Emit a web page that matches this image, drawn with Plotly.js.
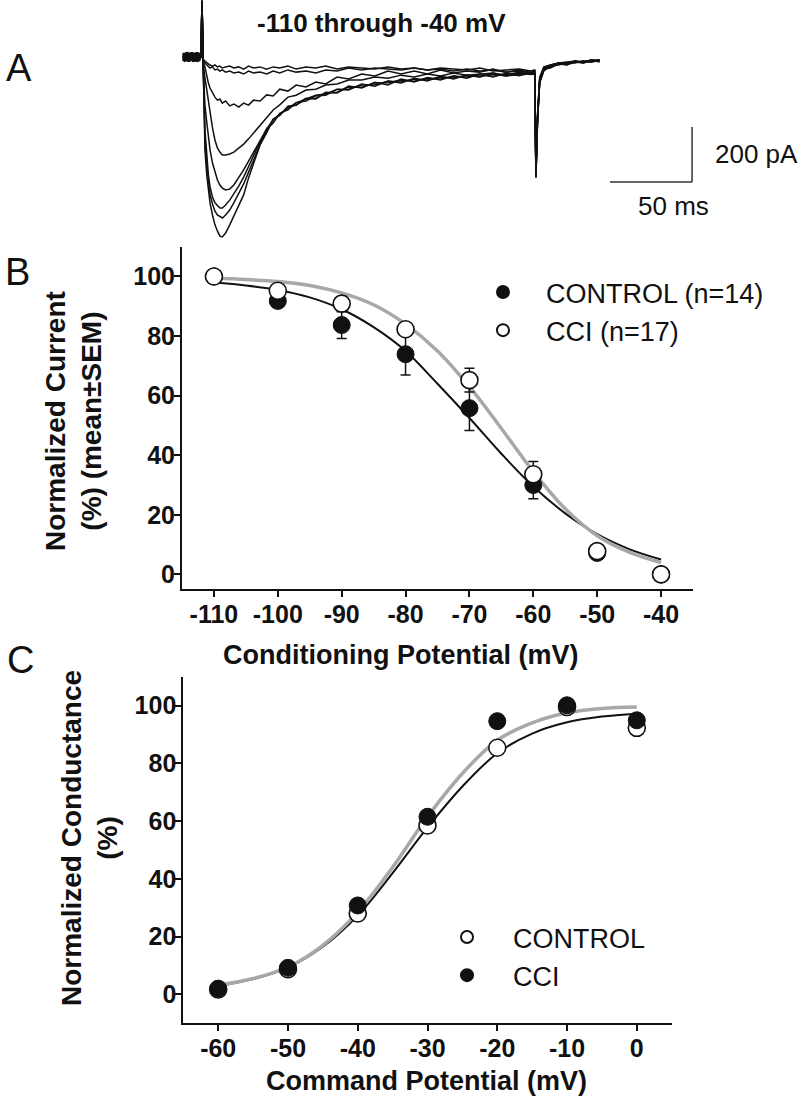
<!DOCTYPE html>
<html><head><meta charset="utf-8">
<script src="https://cdn.plot.ly/plotly-3.0.1.min.js"></script>
<style>html,body{margin:0;padding:0;background:#fff}#chart{width:800px;height:1097px}</style>
</head><body><div id="chart"></div>
<script>
// ---------- Panel A: current traces (time in ms, current in pA) ----------
const sweepTimeMs = [-11,-10,-9,-8,-7,-6,-5,-4,-3,-2,-1,0,0.6,1.3,2.4,3.5,4.5,5.5,7,8.5,10,11.5,13,15,17.5,20,23,26,29,32,36,40,44,48,53,58,64,70,76,83,90,98,106,114,122,130,138,146,154,162,170,178,186,194,201,203.5,204.2,205.2,206.5,209,213,218,223,228,233,238,243];
const sweepM110 = [11,-15,7,-18,15,-7,18,-11,4,-15,7,0,205,-66,-339,-430,-491,-531,-575,-611,-633,-652,-655,-641,-611,-579,-539,-502,-440,-386,-320,-276,-228,-212,-181,-175,-152,-150,-131,-128,-109,-110,-95,-94,-84,-88,-77,-80,-70,-73,-65,-70,-62,-66,-60,-62,-437,-229,-91,-47,-36,-22,-28,-15,-20,-12,-16];
const sweepM100 = [-7,15,-11,18,-4,11,-15,7,-18,11,-4,0,205,-55,-302,-393,-455,-499,-535,-561,-575,-582,-586,-575,-557,-531,-499,-462,-419,-375,-317,-262,-240,-205,-192,-166,-160,-141,-139,-118,-117,-102,-101,-88,-91,-80,-84,-73,-76,-66,-72,-62,-69,-58,-64,-60,-430,-222,-95,-51,-33,-29,-21,-22,-14,-18,-13];
const sweepM90 = [15,-4,-15,11,-7,18,-11,15,-4,-18,11,0,205,-47,-266,-368,-430,-473,-510,-531,-542,-550,-550,-539,-521,-499,-470,-437,-400,-360,-309,-270,-226,-213,-179,-176,-150,-153,-128,-131,-106,-113,-92,-102,-80,-91,-75,-84,-68,-77,-62,-73,-59,-68,-55,-62,-440,-233,-87,-44,-40,-25,-29,-18,-22,-11,-18];
const sweepM80 = [-11,7,18,-15,4,-7,11,-18,15,-4,7,0,205,-40,-175,-237,-291,-338,-386,-422,-448,-466,-477,-484,-481,-466,-440,-411,-379,-346,-302,-262,-229,-207,-186,-167,-153,-139,-135,-117,-120,-98,-106,-87,-95,-77,-87,-70,-80,-66,-73,-58,-69,-62,-58,-65,-425,-218,-84,-47,-33,-25,-25,-18,-18,-15,-11];
const sweepM70 = [4,-18,11,-7,15,-11,7,-15,18,-7,-4,0,205,-25,-76,-120,-175,-211,-258,-302,-331,-346,-357,-357,-353,-346,-331,-317,-298,-277,-251,-225,-193,-174,-146,-139,-120,-117,-102,-98,-84,-84,-73,-77,-66,-73,-62,-69,-58,-66,-62,-58,-66,-55,-62,-58,-430,-225,-87,-44,-36,-22,-25,-15,-22,-15,-11];
const sweepM60 = [-15,11,-4,15,-18,7,-7,11,-11,18,-7,0,205,-18,-36,-69,-95,-113,-131,-146,-157,-153,-168,-160,-178,-171,-182,-168,-175,-157,-160,-138,-142,-117,-124,-102,-109,-91,-98,-73,-80,-62,-69,-51,-62,-51,-62,-47,-58,-51,-55,-44,-55,-47,-55,-51,-420,-215,-80,-40,-33,-25,-22,-18,-15,-18,-11];
const sweepM50 = [7,-11,15,-4,11,-15,4,-7,11,-11,15,0,205,-11,-22,-29,-33,-40,-36,-47,-44,-51,-47,-55,-51,-58,-55,-62,-51,-58,-55,-62,-51,-58,-47,-55,-51,-58,-47,-51,-40,-47,-40,-44,-47,-40,-47,-44,-51,-44,-51,-47,-55,-51,-58,-55,-415,-210,-76,-40,-29,-22,-22,-15,-18,-11,-15];
const sweepM40 = [-4,11,-15,7,-11,15,-18,4,-7,11,-15,0,205,-7,-15,-22,-25,-29,-33,-29,-36,-33,-40,-36,-33,-40,-36,-44,-33,-40,-36,-44,-36,-40,-33,-44,-36,-40,-33,-44,-36,-40,-44,-36,-44,-40,-47,-40,-44,-47,-40,-51,-47,-44,-51,-47,-410,-205,-73,-36,-29,-22,-18,-15,-18,-11,-11];
const scaleBarMs = 50;
const scaleBarPa = 200;
const scaleBarStartMs = 249.4;
const scaleBarBasePa = -455;

// ---------- Panel B: steady-state inactivation ----------
const inactV = [-110,-100,-90,-80,-70,-60,-50,-40];
const inactControl = [100,91.8,83.7,73.9,55.8,30.0,7.2,0];
const inactControlSem = [0.5,1.5,4.5,7.0,7.5,4.6,1.0,0.5];
const inactCci = [100,95.2,90.9,82.3,65.2,33.6,7.8,0];
const inactCciSem = [0.5,1.7,2.4,2.0,4.0,4.3,1.0,0.5];
const inactFitV = [-110,-105,-100,-95,-90,-85,-80,-75,-70,-65,-60,-55,-50,-45,-40];
const inactFitControl = [98,97,95.5,93,89,83,75,64,52.5,40.5,29.5,20.5,13.5,8.5,5];
const inactFitCci = [99.5,99,98.3,97,94.5,90.5,84,75,63,49,34.5,22,13,7.5,4];
const pctTicks = [0,20,40,60,80,100];

// ---------- Panel C: activation (conductance) ----------
const actV = [-60,-50,-40,-30,-20,-10,0];
const actControl = [1.7,8.7,28.0,58.5,85.4,99.5,92.3];
const actCci = [2.0,9.2,30.8,61.5,94.6,100.1,94.9];
const actFitV = [-60,-55,-50,-45,-40,-35,-30,-25,-20,-15,-10,-5,0];
const actFitControl = [2.9,5.3,9.3,16.5,27.3,42,57.8,72,83.5,90.3,94.2,96.2,97.2];
const actFitCci = [3.2,5.5,9.5,17,28.5,44,61.5,76.5,88,94,97.5,99,99.5];

// ---------- layout helpers ----------
const W = 800, H = 1097;
const fx = p => p / W;
const fy = p => 1 - p / H;
const FONT = 'Liberation Sans, Arial, Helvetica, sans-serif';
const INK = '#111111';
const GREY = '#a8a8a8';

const sweeps = [sweepM110, sweepM100, sweepM90, sweepM80, sweepM70, sweepM60, sweepM50, sweepM40];
const traces = [];
sweeps.forEach(s => traces.push({
  x: sweepTimeMs, y: s, xaxis: 'x3', yaxis: 'y3', type: 'scatter', mode: 'lines',
  line: {color: INK, width: 1.5}, showlegend: false, hoverinfo: 'skip'
}));

// Panel B
traces.push({x: inactFitV, y: inactFitControl, xaxis: 'x', yaxis: 'y', mode: 'lines',
  line: {color: INK, width: 2, shape: 'spline'}, showlegend: false, hoverinfo: 'skip'});
traces.push({x: inactFitV, y: inactFitCci, xaxis: 'x', yaxis: 'y', mode: 'lines',
  line: {color: GREY, width: 3.5, shape: 'spline'}, showlegend: false, hoverinfo: 'skip'});
traces.push({x: inactV, y: inactControl, xaxis: 'x', yaxis: 'y', mode: 'markers', name: 'CONTROL (n=14)',
  legend: 'legend',
  marker: {symbol: 'circle', size: 17, color: INK, line: {color: INK, width: 1}},
  error_y: {type: 'data', array: inactControlSem, visible: true, color: INK, thickness: 1.5, width: 5}});
traces.push({x: inactV, y: inactCci, xaxis: 'x', yaxis: 'y', mode: 'markers', name: 'CCI (n=17)',
  legend: 'legend',
  marker: {symbol: 'circle', size: 17, color: '#ffffff', line: {color: INK, width: 1.6}},
  error_y: {type: 'data', array: inactCciSem, visible: true, color: INK, thickness: 1.5, width: 5}});

// Panel C
traces.push({x: actFitV, y: actFitControl, xaxis: 'x2', yaxis: 'y2', mode: 'lines',
  line: {color: INK, width: 2, shape: 'spline'}, showlegend: false, hoverinfo: 'skip'});
traces.push({x: actFitV, y: actFitCci, xaxis: 'x2', yaxis: 'y2', mode: 'lines',
  line: {color: GREY, width: 3.5, shape: 'spline'}, showlegend: false, hoverinfo: 'skip'});
traces.push({x: actV, y: actControl, xaxis: 'x2', yaxis: 'y2', mode: 'markers', name: 'CONTROL',
  legend: 'legend2',
  marker: {symbol: 'circle', size: 17, color: '#ffffff', line: {color: INK, width: 1.6}}});
traces.push({x: actV, y: actCci, xaxis: 'x2', yaxis: 'y2', mode: 'markers', name: 'CCI',
  legend: 'legend2',
  marker: {symbol: 'circle', size: 17, color: INK, line: {color: INK, width: 1}}});

const axisCommon = {
  showline: true, linecolor: INK, linewidth: 2, mirror: false,
  ticks: 'outside', ticklen: 6, tickwidth: 2, tickcolor: INK,
  showgrid: false, zeroline: false, fixedrange: true,
  tickfont: {family: FONT, size: 25, color: INK, weight: 'bold'}
};
const lbl = v => String(v);

const layout = {
  width: W, height: H, margin: {l: 0, r: 0, t: 0, b: 0},
  paper_bgcolor: '#ffffff', plot_bgcolor: 'rgba(0,0,0,0)',
  font: {family: FONT, color: INK},
  xaxis3: {domain: [fx(150), fx(800)], range: [-31.1, 365.2], visible: false, anchor: 'y3'},
  yaxis3: {domain: [fy(245), fy(0)], range: [-684.3, 207.5], visible: false, anchor: 'x3'},
  xaxis: Object.assign({}, axisCommon, {domain: [fx(182), fx(693)], range: [-115, -35],
    tickmode: 'array', tickvals: inactV, ticktext: inactV.map(lbl), anchor: 'y', ticklabelstandoff: -4}),
  yaxis: Object.assign({}, axisCommon, {domain: [fy(589.3), fy(246.7)], range: [-5, 110],
    tickmode: 'array', tickvals: pctTicks, ticktext: pctTicks.map(lbl), anchor: 'x', ticklabelstandoff: -6}),
  xaxis2: Object.assign({}, axisCommon, {domain: [fx(183.3), fx(671.7)], range: [-65, 5],
    tickmode: 'array', tickvals: actV, ticktext: actV.map(lbl), anchor: 'y2', ticklabelstandoff: -4}),
  yaxis2: Object.assign({}, axisCommon, {domain: [fy(1023.3), fy(676.7)], range: [-10, 110],
    tickmode: 'array', tickvals: pctTicks, ticktext: pctTicks.map(lbl), anchor: 'x2', ticklabelstandoff: -6}),
  showlegend: true,
  legend: {x: fx(460), y: fy(268), xanchor: 'left', yanchor: 'top', bgcolor: 'rgba(0,0,0,0)',
    font: {family: FONT, size: 27, color: INK}, itemsizing: 'constant', itemwidth: 76, tracegroupgap: 0},
  legend2: {x: fx(421), y: fy(913), xanchor: 'left', yanchor: 'top', bgcolor: 'rgba(0,0,0,0)',
    font: {family: FONT, size: 27, color: INK}, itemsizing: 'constant', itemwidth: 82, tracegroupgap: 0},
  shapes: [
    {type: 'line', xref: 'x3', yref: 'y3', x0: scaleBarStartMs, x1: scaleBarStartMs + scaleBarMs,
      y0: scaleBarBasePa, y1: scaleBarBasePa, line: {color: '#333', width: 1.5}},
    {type: 'line', xref: 'x3', yref: 'y3', x0: scaleBarStartMs + scaleBarMs, x1: scaleBarStartMs + scaleBarMs,
      y0: scaleBarBasePa, y1: scaleBarBasePa + scaleBarPa, line: {color: '#333', width: 1.5}}
  ],
  annotations: []
};

function note(text, x, y, size, opts) {
  layout.annotations.push(Object.assign({
    text: text, x: fx(x), y: fy(y), xref: 'paper', yref: 'paper', showarrow: false,
    xanchor: 'center', yanchor: 'middle',
    font: {family: FONT, size: size, color: INK}
  }, opts || {}));
}
const bold = size => ({font: {family: FONT, size: size, color: INK, weight: 'bold'}});

note('A', 19, 68, 38);
note('B', 17, 272, 38);
note('C', 20, 660, 38);
note('-110 through -40 mV', 381, 23, 26, bold(26));
note('200 pA', 713, 154, 26, {xanchor: 'left'});
note('50 ms', 636, 206, 26, {xanchor: 'left'});
note('Normalized Current<br>(%) (mean±SEM)', 73, 421, 28, Object.assign({textangle: -90}, bold(28)));
note('Conditioning Potential (mV)', 400, 655, 27, bold(27));
note('Normalized Conductance<br>(%)', 89, 838, 28, Object.assign({textangle: -90}, bold(28)));
note('Command Potential (mV)', 427, 1081, 27, bold(27));

Plotly.newPlot('chart', traces, layout, {displayModeBar: false, staticPlot: true});
</script></body></html>
